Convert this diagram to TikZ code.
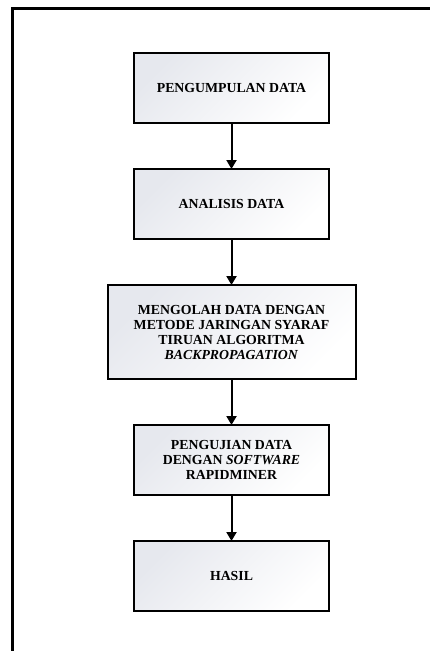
\documentclass[tikz,border=0pt]{standalone}
\usepackage{fontspec}
\setmainfont{Liberation Serif}
\usetikzlibrary{positioning,arrows.meta}
\definecolor{boxgray}{RGB}{230,232,238}
\begin{document}
\begin{tikzpicture}[x=1bp, y=1bp, line width=2bp, node distance=46bp,
  every node/.style={font=\bfseries\fontsize{13.8bp}{15bp}\selectfont},
  langkah/.style={draw, outer sep=0pt, align=center, minimum width=195bp, minimum height=70bp,
    top color=boxgray, bottom color=white, shading angle=45},
  panah/.style={-{Triangle[width=10bp,length=9bp]}}]
  \useasboundingbox (0,0) rectangle (430,-651);
  % frame of the page, only the left and top sides show
  \draw[line width=3bp] (12.5,-651) -- (12.5,-9) -- (430,-9);
  \node[langkah] (kumpul) at (231.5,-88) {PENGUMPULAN DATA};
  \node[langkah, below=of kumpul] (analisis) {ANALISIS DATA};
  \node[langkah, below=of analisis, minimum width=248bp, minimum height=94bp] (olah)
    {MENGOLAH DATA DENGAN\\ METODE JARINGAN SYARAF\\ TIRUAN ALGORITMA\\ \textit{BACKPROPAGATION}};
  \node[langkah, below=of olah] (uji) {PENGUJIAN DATA\\ DENGAN \textit{SOFTWARE}\\ RAPIDMINER};
  \node[langkah, below=of uji] (hasil) {HASIL};
  \draw[panah] (kumpul) -- (analisis);
  \draw[panah] (analisis) -- (olah);
  \draw[panah] (olah) -- (uji);
  \draw[panah] (uji) -- (hasil);
\end{tikzpicture}
\end{document}
